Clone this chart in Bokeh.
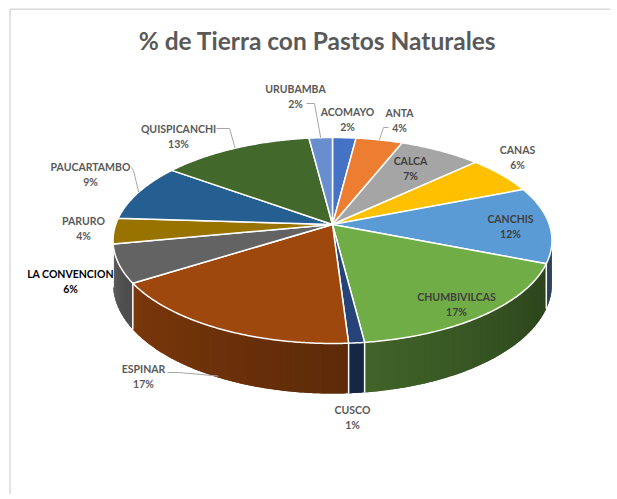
import math
from bokeh.plotting import figure
from bokeh.models import Range1d, ColumnDataSource
from bokeh.core.properties import value
from bokeh.embed import file_html
from bokeh.resources import INLINE

# ---- data ----
title_text = "% de Tierra con Pastos Naturales"
provinces = ["ACOMAYO", "ANTA", "CALCA", "CANAS", "CANCHIS", "CHUMBIVILCAS",
             "CUSCO", "ESPINAR", "LA CONVENCION", "PARURO", "PAUCARTAMBO",
             "QUISPICANCHI", "URUBAMBA"]
shares = [2, 4, 7, 6, 12, 17, 1, 17, 6, 4, 9, 13, 2]

# ---- styles ----
slice_colors = ["#4472C4", "#ED7D31", "#A5A5A5", "#FFC000", "#5B9BD5", "#70AD47",
                "#264478", "#9E480E", "#636363", "#997300", "#255E91", "#43682B",
                "#698ED0"]
label_colors = ["#595959", "#595959", "#404040", "#595959", "#404040", "#404040",
                "#595959", "#595959", "#000000", "#595959", "#595959", "#595959",
                "#595959"]
# label anchor (x, y of first line) in page pixels
label_pos = [(347, 111), (399, 112), (410, 160), (517, 149), (510, 218), (456, 296),
             (352, 409), (143, 368), (70, 273), (83, 220), (90, 166), (178, 128),
             (295, 88)]
LINE_GAP = 15
# leader lines: index -> label-side points
leaders = {12: [(306, 103), (314, 103)],
           1: [(388, 127), (383, 127)],
           11: [(216, 128), (229, 128)],
           10: [(131, 167), (133, 170)],
           7: [(167, 372), (178, 372)]}

W, HGT = 610, 494

# ---- projection of the 3D pie ----
X0, Y0 = 332.0, 224.0
A, B, K, H = 216.8, 100.5, 0.1553, 42.3


def proj(theta_deg, r=1.0, drop=0.0):
    t = math.radians(theta_deg)
    u = r * math.sin(t)
    w = -r * math.cos(t)
    d = 1 - K * w
    return X0 + A * u / d, Y0 + B * w / d + drop * H / d


def shade(hex_color, f):
    h = hex_color.lstrip("#")
    r, g, b = (int(h[i:i + 2], 16) for i in (0, 2, 4))
    return "#%02x%02x%02x" % (round(r * f), round(g * f), round(b * f))


total = float(sum(shares))
starts, ends = [], []
acc = 0.0
for v in shares:
    starts.append(acc / total * 360.0)
    acc += v
    ends.append(acc / total * 360.0)

VIS_A = 90 + math.degrees(math.asin(K))
VIS_B = 270 - math.degrees(math.asin(K))

p = figure(width=W, height=HGT, output_backend="svg", toolbar_location=None,
           x_range=Range1d(0, W), y_range=Range1d(HGT, 0),
           x_axis_type=None, y_axis_type=None, min_border=0)
p.outline_line_color = None
p.grid.visible = False
p.background_fill_color = "white"
p.border_fill_color = "white"

# chart frame (left and top edges)
p.line([9.5, 9.5], [HGT, 8.8], line_color="#d9d9d9", line_width=1.5)
p.line([9.5, W], [8.8, 8.8], line_color="#d9d9d9", line_width=1.5)

# ---- side walls (gradient strips, drawn overlapping) ----
wx, wy, wc = [], [], []
for i, (s, e) in enumerate(zip(starts, ends)):
    a0, a1 = max(s, VIS_A), min(e, VIS_B)
    if a1 <= a0:
        continue
    n = max(1, int((a1 - a0) / 0.6) + 1)
    step = (a1 - a0) / n
    for j in range(n):
        t0 = a0 + step * j
        t1 = min(a1, t0 + step * 2.0)
        tm = t0 + 0.5 * step
        f = 0.35 + 0.5 * (tm - VIS_A) / (VIS_B - VIS_A)
        pts = [proj(t0 + (t1 - t0) * k / 2) for k in range(3)]
        bts = [proj(t1 - (t1 - t0) * k / 2, drop=1) for k in range(3)]
        wx.append([q[0] for q in pts + bts])
        wy.append([q[1] for q in pts + bts])
        wc.append(shade(slice_colors[i], f))
p.patches(xs="xs", ys="ys", fill_color="c", line_color=None,
          source=ColumnDataSource(dict(xs=wx, ys=wy, c=wc)))

# white separators on the wall
for s in starts:
    if VIS_A < s < VIS_B:
        a = proj(s); b = proj(s, drop=1)
        p.line([a[0], b[0]], [a[1], b[1]], line_color="white", line_width=1.5)

# ---- top faces ----
tx, ty = [], []
for s, e in zip(starts, ends):
    n = max(2, int((e - s) / 0.5) + 1)
    xs, ys = [X0], [Y0]
    for j in range(n + 1):
        x, y = proj(s + (e - s) * j / n)
        xs.append(x); ys.append(y)
    tx.append(xs); ty.append(ys)
p.patches(xs="xs", ys="ys", fill_color="c", line_color="white", line_width=1.5,
          line_join="round",
          source=ColumnDataSource(dict(xs=tx, ys=ty, c=slice_colors)))

# ---- leader lines ----
for i, pts in leaders.items():
    mid = 0.5 * (starts[i] + ends[i])
    if VIS_A < mid < VIS_B:
        end = proj(mid, drop=0.97)
    else:
        end = proj(mid)
    xs = [q[0] for q in pts] + [end[0]]
    ys = [q[1] for q in pts] + [end[1]]
    p.line(xs, ys, line_color="#a6a6a6", line_width=1)

# ---- labels ----
lx = [q[0] for q in label_pos]
ly1 = [q[1] for q in label_pos]
ly2 = [q[1] + LINE_GAP for q in label_pos]
pct = ["%d%%" % v for v in shares]
src = ColumnDataSource(dict(x=lx, y1=ly1, y2=ly2, name=provinces, pct=pct, c=label_colors))
for ycol, tcol in (("y1", "name"), ("y2", "pct")):
    p.text(x="x", y=ycol, text=tcol, source=src, text_color="c",
           text_font=value("Lato"), text_font_style="bold", text_font_size="10.5px",
           text_align="center", text_baseline="middle")

# ---- title ----
p.text(x=[317], y=[40], text=[title_text], text_color="#595959",
       text_font=value("Lato"), text_font_style="bold", text_font_size="24.5px",
       text_align="center", text_baseline="middle")

open("out.html", "w").write(file_html(p, INLINE))
